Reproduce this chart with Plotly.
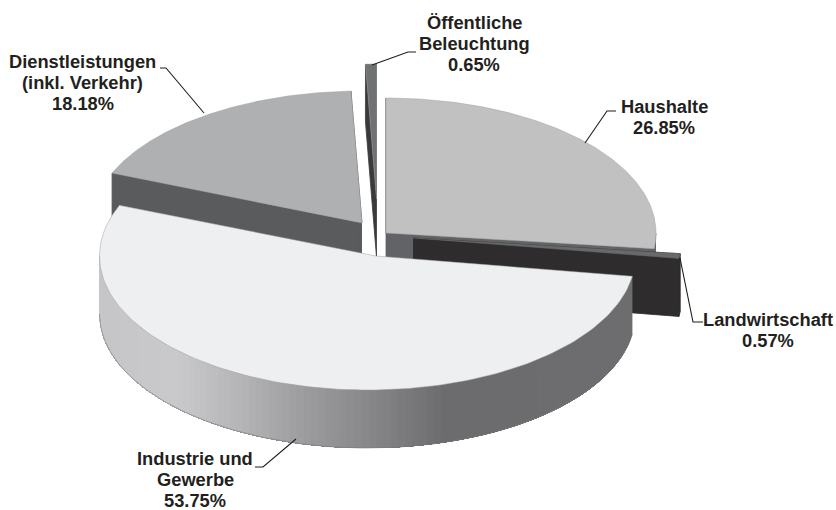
import numpy as np
import plotly.graph_objects as go

# Electricity consumption by sector, clockwise from twelve o'clock
sectors = [["Haushalte"], ["Landwirtschaft"], ["Industrie und", "Gewerbe"],
           ["Dienstleistungen", "(inkl. Verkehr)"], ["Öffentliche", "Beleuchtung"]]
shares = [26.85, 0.57, 53.75, 18.18, 0.65]

# Exploded geometry of each slice, in page pixels
DEPTH = 58
slice_style = {
    0: dict(cx=386, cy=233, ax=386, rx=270, ry=135, top="#c1c1c2", cut="#626366"),
    1: dict(cx=413, cy=238, ax=413, rx=269, ry=135, top="#68696b", cut="#2e2c2c"),
    2: dict(cx=367.5, cy=256, ax=376, rx=268, ry=134, top="#eeeff1", cut=None),
    3: dict(cx=362, cy=223, ax=362, rx=270, ry=132, top="#aeb0b2", cut="#5a5b5d"),
    4: dict(cx=376.5, cy=199, ax=376.5, rx=270, ry=135, top="#6f7173", cut="#3a3a3c"),
}
# Back-to-front painting order
paint_order = [4, 3, 0, 1, 2]

# Label column centre and the vertical centre of its first line
label_pos = {0: (664, 106), 1: (768, 319), 2: (195, 458), 3: (82.5, 61.5), 4: (474, 22.5)}
LINE_STEP = 21
leaders = {
    0: ([585, 607, 616], [143, 111, 111]),
    1: ([680, 693, 703], [258, 322, 322]),
    2: ([296, 263, 255], [439, 467, 467]),
    3: ([204, 166, 160], [113, 68, 68]),
    4: ([372, 408, 416], [65, 52, 52]),
}

# Wall shading along the front of the largest slice, by horizontal position
wall_x = [99, 180, 250, 290, 380, 450, 634]
wall_grey = [198, 202, 179, 163, 133, 108, 110]

edges = np.concatenate([[0], np.cumsum(shares)]) / sum(shares) * 2 * np.pi


def rim(s, t):
    return s["cx"] + s["rx"] * np.sin(t), s["cy"] - s["ry"] * np.cos(t)


def polygon(x, y, fill, line=None, width=0.8):
    return go.Scatter(x=list(x), y=list(y), mode="lines", fill="toself", fillcolor=fill,
                      line=dict(color=line or fill, width=width), hoverinfo="skip",
                      showlegend=False)


fig = go.Figure()

for i in paint_order:
    s = slice_style[i]
    t0, t1 = edges[i], edges[i + 1]

    # Radial cut faces
    if s["cut"]:
        for t in (t0, t1):
            ox, oy = rim(s, t)
            fig.add_trace(polygon([s["ax"], ox, ox, s["ax"]],
                                  [s["cy"], oy, oy + DEPTH, s["cy"] + DEPTH], s["cut"]))

    # Outer wall: only the front half of the rim faces the viewer
    lo, hi = max(t0, np.pi / 2), min(t1, 3 * np.pi / 2)
    if hi > lo:
        if s["cut"]:
            x, y = rim(s, np.linspace(lo, hi, 8))
            fig.add_trace(polygon(np.r_[x, x[::-1]], np.r_[y, y[::-1] + DEPTH], s["cut"]))
        else:
            # Shaded bands overlap all the way to the far end so no seams show
            for a in np.linspace(lo, hi, 110, endpoint=False):
                x, y = rim(s, np.linspace(a, hi, 120))
                g = int(np.interp(rim(s, a)[0], wall_x, wall_grey))
                colour = f"rgb({g},{g},{g + 2})"
                fig.add_trace(go.Scatter(x=np.r_[x, x[::-1]], y=np.r_[y, y[::-1] + DEPTH],
                                         mode="none", fill="toself", fillcolor=colour,
                                         hoverinfo="skip", showlegend=False))
            # Thin rim along the bottom of the wall
            x, y = rim(s, np.linspace(lo, hi, 160))
            fig.add_trace(go.Scatter(x=x, y=y + DEPTH, mode="lines",
                                     line=dict(color="#77787a", width=0.6),
                                     hoverinfo="skip", showlegend=False))

    # Top face
    x, y = rim(s, np.linspace(t0, t1, 140))
    fig.add_trace(polygon(np.r_[s["ax"], x, s["ax"]], np.r_[s["cy"], y, s["cy"]],
                          s["top"], line="#a0a1a3" if i != 1 else s["top"], width=0.5))

# Leader lines
for i, (lx, ly) in leaders.items():
    fig.add_trace(go.Scatter(x=lx, y=ly, mode="lines", line=dict(color="#1e1e1e", width=1.1),
                             hoverinfo="skip", showlegend=False))

# Sector labels with their shares, placed line by line for tight leading
for i, name in enumerate(sectors):
    px, py = label_pos[i]
    for k, text in enumerate(name + [f"{shares[i]:.2f}%"]):
        fig.add_annotation(x=px, y=py + k * LINE_STEP, text=f"<b>{text}</b>", showarrow=False,
                           xanchor="center", yanchor="middle", align="center",
                           font=dict(family="Liberation Sans", size=18.3, color="#231f20"))

fig.update_layout(
    width=836, height=510, margin=dict(l=0, r=0, t=0, b=0),
    paper_bgcolor="white", plot_bgcolor="white",
    xaxis=dict(range=[0, 836], visible=False, fixedrange=True),
    yaxis=dict(range=[510, 0], visible=False, fixedrange=True),
)
fig.write_html("out.html", config=dict(displayModeBar=False))
